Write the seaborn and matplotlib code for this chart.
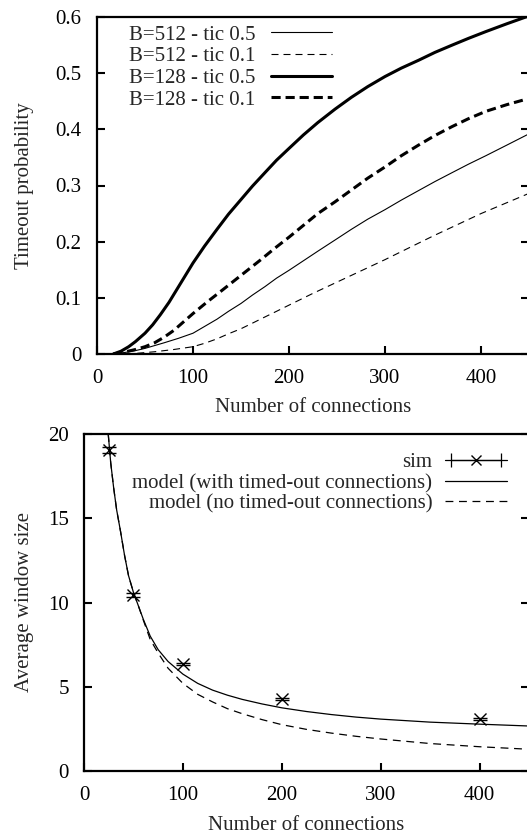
import numpy as np
import pandas as pd
import matplotlib
matplotlib.use("Agg")
import matplotlib.pyplot as plt
import seaborn as sns
from matplotlib.lines import Line2D
from matplotlib.legend_handler import HandlerLine2D

# --- top panel: timeout probability vs number of connections ---
x_b128_t05 = [17, 25, 33, 40, 50, 58, 66, 75, 85, 100, 112, 125, 137, 150, 162, 175, 187, 200,
              215, 230, 248, 265, 282, 300, 317, 335, 352, 370, 387, 405, 427, 450]
y_b128_t05 = [0.0, 0.005, 0.013, 0.022, 0.037, 0.052, 0.070, 0.092, 0.120, 0.162, 0.192, 0.222,
              0.249, 0.275, 0.299, 0.323, 0.345, 0.366, 0.390, 0.412, 0.436, 0.457, 0.476, 0.494,
              0.509, 0.523, 0.537, 0.550, 0.562, 0.574, 0.588, 0.602]

x_b128_t01 = [17, 30, 40, 50, 60, 70, 80, 90, 100, 115, 130, 150, 170, 185, 200, 215, 230, 248,
              265, 282, 300, 317, 335, 352, 370, 387, 405, 427, 450]
y_b128_t01 = [0.0, 0.004, 0.008, 0.013, 0.020, 0.030, 0.042, 0.057, 0.072, 0.093, 0.113, 0.140,
              0.167, 0.188, 0.208, 0.229, 0.250, 0.271, 0.292, 0.313, 0.333, 0.353, 0.372, 0.389,
              0.405, 0.419, 0.432, 0.444, 0.455]

x_b512_t05 = [17, 30, 40, 50, 60, 70, 85, 100, 112, 125, 137, 150, 162, 175, 187, 200, 215, 230,
              248, 265, 282, 300, 317, 335, 352, 370, 387, 405, 427, 450]
y_b512_t05 = [0.0, 0.003, 0.006, 0.010, 0.015, 0.020, 0.028, 0.037, 0.049, 0.062, 0.076, 0.090,
              0.105, 0.120, 0.135, 0.149, 0.166, 0.183, 0.203, 0.222, 0.240, 0.257, 0.274, 0.291,
              0.307, 0.323, 0.338, 0.353, 0.372, 0.392]

x_b512_t01 = [17, 40, 60, 80, 100, 112, 125, 137, 150, 162, 175, 187, 200, 225, 250, 275, 300,
              325, 350, 375, 400, 425, 450]
y_b512_t01 = [0.0, 0.001, 0.004, 0.008, 0.013, 0.019, 0.027, 0.036, 0.045, 0.055, 0.066, 0.076,
              0.087, 0.108, 0.128, 0.148, 0.168, 0.189, 0.210, 0.230, 0.250, 0.268, 0.286]

# --- bottom panel: average window size ---
sim_x = [25, 50, 100, 200, 400]
sim_y = [19.05, 10.45, 6.35, 4.25, 3.10]
sim_err = [0.15, 0.12, 0.08, 0.06, 0.05]

model_x = [24.5, 27, 30, 33, 37, 41, 45, 50, 55, 60, 67, 75, 85, 100, 115, 130, 145, 160, 180,
           200, 225, 250, 275, 300, 350, 400, 450]
model_with = [20.0, 18.3, 16.8, 15.5, 14.2, 12.8, 11.6, 10.6, 9.8, 9.0, 8.0, 7.2, 6.5, 5.75, 5.2,
              4.8, 4.5, 4.25, 3.98, 3.75, 3.53, 3.35, 3.2, 3.08, 2.9, 2.78, 2.67]
model_none = [20.0, 18.3, 16.8, 15.5, 14.2, 12.8, 11.6, 10.6, 9.8, 8.95, 7.8, 7.0, 6.1, 5.2, 4.55,
              4.1, 3.7, 3.4, 3.05, 2.75, 2.47, 2.25, 2.06, 1.9, 1.63, 1.44, 1.29]

x_ticks = [0, 100, 200, 300, 400]
top_yticks = [0, 0.1, 0.2, 0.3, 0.4, 0.5, 0.6]
top_ylabels = ["0", "0.1", "0.2", "0.3", "0.4", "0.5", "0.6"]
bot_yticks = [0, 5, 10, 15, 20]

sns.set_theme(style="ticks")
plt.rcParams["font.family"] = ["Liberation Serif", "DejaVu Serif"]
plt.rcParams["font.size"] = 15

fig = plt.figure(figsize=(5.27, 8.36), dpi=100)
ax1 = fig.add_axes([97 / 527, 1 - 354 / 836, 432 / 527, 337 / 836])
ax2 = fig.add_axes([84 / 527, 1 - 771 / 836, 445 / 527, 337 / 836])

thin, thick = 0.8, 2.2

top_series = [
    ("B=512 - tic 0.5", x_b512_t05, y_b512_t05, thin, None),
    ("B=512 - tic 0.1", x_b512_t01, y_b512_t01, thin, (6.3, 4.5)),
    ("B=128 - tic 0.5", x_b128_t05, y_b128_t05, thick, None),
    ("B=128 - tic 0.1", x_b128_t01, y_b128_t01, thick, (3.0, 1.6)),
]
for label, xs, ys, lw, dash in top_series:
    df = pd.DataFrame({"n": xs, "p": ys})
    sns.lineplot(data=df, x="n", y="p", ax=ax1, color="black", lw=lw, label=label)
    if dash is not None:
        ax1.lines[-1].set_dashes(dash)

ax1.set_xlim(0, 450)
ax1.set_ylim(0, 0.6)
ax1.set_yticks(top_yticks)
ax1.set_yticklabels(top_ylabels)

# bottom panel
df_with = pd.DataFrame({"n": model_x, "w": model_with})
df_none = pd.DataFrame({"n": model_x, "w": model_none})
sns.lineplot(data=df_with, x="n", y="w", ax=ax2, color="black", lw=0.9)
sns.lineplot(data=df_none, x="n", y="w", ax=ax2, color="black", lw=0.9)
ax2.lines[-1].set_dashes((6.3, 4.5))
ax2.errorbar(sim_x, sim_y, yerr=sim_err, fmt="x", color="black", ms=8, mew=1.0,
             elinewidth=0.9, capsize=5, capthick=0.9)

ax2.set_xlim(0, 450)
ax2.set_ylim(0, 20)
ax2.set_yticks(bot_yticks)

# legends (gnuplot style: text first, sample on the right)
ax1.legend(loc="upper left", bbox_to_anchor=(0.074, 0.976), frameon=False,
           markerfirst=False, handlelength=2.9, handletextpad=0.75,
           labelspacing=0.1, borderpad=0, borderaxespad=0, fontsize=15)

sim_line = Line2D([], [], color="black", lw=0.9, marker="x", ms=7, mew=1.0)
sim_caps = Line2D([], [], color="black", lw=0.9, marker="|", ms=10, mew=0.9)
h_with = Line2D([], [], color="black", lw=0.9)
h_none = Line2D([], [], color="black", lw=0.9, dashes=(6.3, 4.5))
ax2.legend([(sim_caps, sim_line), h_with, h_none],
           ["sim", "model (with timed-out connections)", "model (no timed-out connections)"],
           handler_map={sim_caps: HandlerLine2D(numpoints=2), sim_line: HandlerLine2D(numpoints=1)},
           loc="upper right", bbox_to_anchor=(0.951, 0.944), frameon=False,
           markerfirst=False, handlelength=3.0, handletextpad=0.6,
           labelspacing=0.05, borderpad=0, borderaxespad=0, fontsize=15)

for ax in (ax1, ax2):
    ax.set_xticks(x_ticks)
    for s in ax.spines.values():
        s.set_linewidth(1.6)
        s.set_color("black")
    ax.spines["top"].set_visible(True)
    ax.spines["right"].set_visible(True)
    ax.tick_params(axis="both", direction="in", length=6, width=1.5, colors="black",
                   labelsize=15, pad=11)
    ax.tick_params(axis="y", right=True)
    ax.set_xlabel("Number of connections", fontsize=15)
    ax.xaxis.label.set_va("center")
    ax.yaxis.label.set_va("center")
    ax.set_facecolor("white")

ax1.set_ylabel("Timeout probability", fontsize=15)
ax2.set_ylabel("Average window size", fontsize=15)
ax1.xaxis.set_label_coords(0.5, -(407 - 354) / 337)
ax1.yaxis.set_label_coords(-(97 - 24) / 432, 0.5)
ax2.xaxis.set_label_coords(0.5, -(825 - 771) / 337)
ax2.yaxis.set_label_coords(-(84 - 24) / 445, 0.5)

fig.savefig("out.png", dpi=100, facecolor="white")
